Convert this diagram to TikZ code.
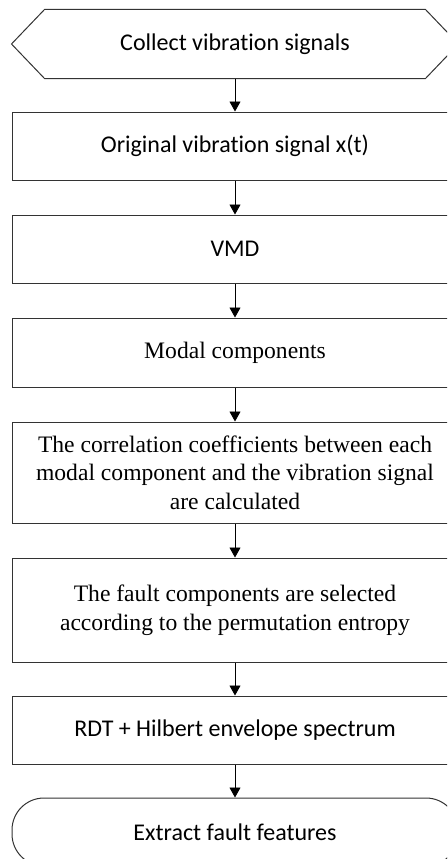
\documentclass[tikz,border=0pt]{standalone}
\usepackage{fontspec}
\setmainfont{Liberation Serif}
\newfontfamily\sansfnt[Ligatures=NoCommon]{Carlito}
\usetikzlibrary{arrows.meta}

\begin{document}
\begin{tikzpicture}[x=1pt,y=-1pt,
  outline/.style={draw=black!80, line width=1pt},
  stepbox/.style={outline, minimum width=446pt, minimum height=68pt,
    inner sep=0pt, align=center,
    font=\sansfnt\fontsize{24}{29}\selectfont},
  serifbox/.style={stepbox, font=\fontsize{23.6}{28.5}\selectfont},
  flow/.style={draw=black, line width=0.9pt, -{Triangle[length=10pt,width=11pt]}}]
\useasboundingbox (0,0) rectangle (447,859);
\clip (0,0) rectangle (447,859);

% start symbol: hexagon drawn round a borderless node
\node[stepbox, draw=none, minimum width=380pt] (start) at (235,44) {Collect vibration signals};
\draw[outline] (start.north west) -- (start.north east) -- ([xshift=33pt]start.east)
  -- (start.south east) -- (start.south west) -- ([xshift=-33pt]start.west) -- cycle;

\node[stepbox] (signal) at (235,146) {Original vibration signal x(t)};
\node[stepbox] (vmd) at (235,249) {VMD};
\node[serifbox, minimum height=69pt] (modes) at (235,352.5) {Modal components};
\node[serifbox, minimum height=101pt] (corr) at (235,472.5)
  {The correlation coefficients between each\\modal component and the vibration signal\\are calculated};
\node[serifbox, minimum height=104pt] (select) at (235,610)
  {The fault components are selected\\according to the permutation entropy};
\node[stepbox] (rdt) at (235,730) {RDT + Hilbert envelope spectrum};
\node[stepbox, rounded corners=32pt] (finish) at (235,832) {Extract fault features};

\draw[flow] (start.south) -- (signal.north);
\draw[flow] (signal.south) -- (vmd.north);
\draw[flow] (vmd.south) -- (modes.north);
\draw[flow] (modes.south) -- (corr.north);
\draw[flow] (corr.south) -- (select.north);
\draw[flow] (select.south) -- (rdt.north);
\draw[flow] (rdt.south) -- (finish.north);
\end{tikzpicture}
\end{document}
